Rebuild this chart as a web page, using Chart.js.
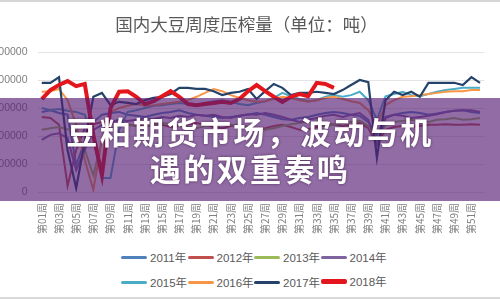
<!DOCTYPE html>
<html>
<head>
<meta charset="utf-8">
<script src="https://cdn.jsdelivr.net/npm/chart.js@4/dist/chart.umd.min.js"></script>
<style>
  body { margin: 0; width: 500px; height: 300px; overflow: hidden; background: #fff; position: relative; }
  #graphique { position: absolute; left: -20px; top: 0; }
  .trait-haut { position: absolute; left: 0; top: 0; width: 500px; height: 2px; background: #d6d6d6; }
  .trait-bas { position: absolute; left: 0; top: 297px; width: 500px; height: 2px; background: #dadada; }
  #legende { position: absolute; left: 121px; top: 245px; width: 270px; font-family: "Liberation Sans", "Noto Sans CJK SC", sans-serif; font-size: 11.5px; color: #595959; }
  #legende .item { display: inline-flex; align-items: center; width: 66.5px; height: 24px; white-space: nowrap; }
  #legende .trait { display: inline-block; width: 26px; margin-right: 3px; border-radius: 2px; }
  #bandeau { position: absolute; left: 0; top: 98px; width: 500px; height: 103px; background: rgba(86, 29, 117, 0.65); }
  #bandeau div { position: absolute; left: 0; top: 14px; width: 500px; text-align: center; color: #fff; font-family: "Noto Sans CJK SC", sans-serif; font-weight: bold; font-size: 31px; line-height: 37px; letter-spacing: 2.4px; text-shadow: 0 0 3px rgba(40, 0, 40, 0.6); }
</style>
</head>
<body>
<div class="trait-haut"></div>
<canvas id="graphique" width="523" height="240"></canvas>
<div id="legende"></div>
<div id="bandeau"><div>豆粕期货市场，波动与机<br>遇的双重奏鸣</div></div>
<div class="trait-bas"></div>
<script>
const TITRE = "国内大豆周度压榨量（单位：吨）";

// semaines : 第01周 ... 第52周
const semaines = [];
for (let i = 1; i <= 52; i++) semaines.push("第" + (i < 10 ? "0" + i : i) + "周");

const annees = ["2011年", "2012年", "2013年", "2014年", "2015年", "2016年", "2017年", "2018年"];
const couleurs = ["#4f81bd", "#c0504d", "#9bbb59", "#8064a2", "#4bacc6", "#f79646", "#23436b", "#e2161c"];
const epaisseurs = [2, 2, 2, 2, 2, 2, 2.2, 4];

const yTicks = [0, 500000, 1000000, 1500000, 2000000, 2500000];

// volumes hebdomadaires (tonnes)
const v2011 = [1430000,1460000,1410000,1380000,480000,900000,1250000,1380000,1410000,1430000,
    1380000,1360000,1340000,1380000,1410000,1430000,1460000,1410000,1380000,1360000,
    1340000,1320000,1340000,1360000,1380000,1410000,1380000,1340000,1300000,1290000,
    1320000,1340000,1380000,1410000,1430000,1410000,1380000,1360000,1250000,1020000,
    1340000,1380000,1410000,1430000,1410000,1380000,1400000,1430000,1450000,1460000,
    1430000,1410000];
const v2012 = [1340000,1320000,1200000,110000,750000,1140000,1210000,1250000,1230000,1200000,
    1210000,1180000,1210000,1230000,1200000,1160000,1180000,1210000,1230000,1200000,
    1160000,1140000,1180000,1200000,1160000,1120000,1140000,1180000,1200000,1160000,
    1110000,1120000,1160000,1200000,1210000,1180000,1200000,1230000,1140000,840000,
    1110000,1160000,1180000,1160000,1180000,1200000,1200000,1210000,1200000,1200000,
    1210000,1200000];
const v2013 = [1110000,1140000,1160000,1120000,1090000,750000,300000,930000,1140000,1180000,
    1200000,1180000,1160000,1200000,1230000,1210000,1180000,1160000,1140000,1180000,
    1210000,1230000,1200000,1180000,1160000,1140000,1110000,1140000,1180000,1210000,
    1230000,1250000,1210000,1180000,1200000,1230000,1250000,1270000,1180000,930000,
    1200000,1250000,1270000,1290000,1270000,1250000,1290000,1300000,1320000,1290000,
    1300000,1320000];
const v2014 = [930000,1020000,1050000,960000,390000,750000,1110000,1200000,1250000,1290000,
    1270000,1290000,1320000,1300000,1340000,1320000,1360000,1340000,1380000,1360000,
    1380000,1340000,1320000,1360000,1390000,1380000,1410000,1380000,1340000,1290000,
    1250000,1290000,1320000,1360000,1380000,1340000,1380000,1410000,1290000,840000,
    1320000,1380000,1360000,1320000,1340000,1360000,1390000,1430000,1450000,1460000,
    1460000,1430000];
const v2015 = [1500000,1460000,1480000,1450000,1430000,1380000,930000,250000,250000,1110000,
    1430000,1460000,1500000,1540000,1550000,1570000,1590000,1570000,1550000,1590000,
    1620000,1640000,1610000,1570000,1550000,1590000,1620000,1680000,1770000,1710000,
    1660000,1620000,1640000,1700000,1730000,1700000,1730000,1790000,1640000,1290000,
    1710000,1750000,1790000,1730000,1710000,1750000,1790000,1820000,1840000,1860000,
    1860000,1860000];
const v2016 = [1790000,1800000,1840000,1640000,1200000,570000,40000,930000,1430000,1500000,
    1540000,1570000,1540000,1550000,1570000,1590000,1610000,1640000,1700000,1770000,
    1840000,1800000,1730000,1680000,1640000,1610000,1620000,1660000,1700000,1680000,
    1640000,1610000,1640000,1680000,1700000,1660000,1620000,1590000,1460000,1200000,
    1550000,1640000,1700000,1710000,1730000,1750000,1770000,1790000,1800000,1800000,
    1820000,1820000];
const v2017 = [1950000,1950000,2050000,750000,70000,900000,1700000,1770000,1550000,1610000,
    1590000,1570000,1640000,1680000,1700000,1750000,1860000,1860000,1840000,1840000,
    1800000,1730000,1770000,1790000,1840000,1660000,1800000,1930000,1860000,1730000,
    1770000,1770000,1790000,1770000,1750000,1820000,1910000,2000000,1960000,610000,
    1640000,1790000,1730000,1790000,1700000,1950000,1950000,1950000,1950000,1910000,
    2050000,1950000];
const v2018 = [1660000,1820000,1910000,1980000,1890000,1930000,1020000,300000,1500000,1790000,
    1800000,1700000,1570000,1620000,1710000,1800000,1700000,1570000,1550000,1570000,
    1590000,1610000,1590000,1660000,1800000,1910000,1800000,1700000,1610000,1700000,
    1750000,1710000,1950000,1930000,1860000];

const series = [v2011, v2012, v2013, v2014, v2015, v2016, v2017, v2018];

// légende en HTML, 4 éléments par ligne
function chargerLegende() {
    let legende = document.getElementById("legende");
    for (let i = 0; i < annees.length; i++) {
        let item = document.createElement("span");
        item.className = "item";
        let trait = document.createElement("span");
        trait.className = "trait";
        trait.style.background = couleurs[i];
        trait.style.height = (i == 7 ? 5 : 3) + "px";
        item.appendChild(trait);
        item.appendChild(document.createTextNode(annees[i]));
        legende.appendChild(item);
    }
}

function loadChart() {
    let datasets = [];
    for (let i = 0; i < annees.length; i++) {
        datasets.push({
            label: annees[i],
            data: series[i],
            borderColor: couleurs[i],
            backgroundColor: couleurs[i],
            borderWidth: epaisseurs[i],
            pointRadius: 0,
            tension: 0,
            fill: false,
            order: annees.length - i   // 2018 dessiné au-dessus
        });
    }
    const config = {
        type: 'line',
        data: { labels: semaines, datasets: datasets },
        options: {
            responsive: false,
            animation: false,
            layout: { padding: { left: 10, right: 0, top: 0, bottom: 4 } },
            plugins: {
                legend: { display: false },
                tooltip: { enabled: false },
                title: {
                    display: true,
                    text: TITRE,
                    color: '#595959',
                    font: { family: 'Noto Sans CJK SC', size: 17.5, weight: 'normal' },
                    padding: { top: 14, bottom: 17 }
                }
            },
            scales: {
                x: {
                    offset: true,
                    grid: { display: false, drawTicks: false },
                    border: { display: false },
                    ticks: {
                        autoSkip: false,
                        minRotation: 90,
                        maxRotation: 90,
                        padding: 11,
                        color: '#808080',
                        font: { family: 'Noto Sans CJK SC', size: 10 },
                        callback: function (val, i) {
                            return i % 2 == 0 ? this.getLabelForValue(val) : '';
                        }
                    },
                    afterFit: function (scale) { scale.height = 44; }
                },
                y: {
                    min: yTicks[0],
                    max: yTicks[yTicks.length - 1],
                    afterBuildTicks: function (scale) {
                        scale.ticks = yTicks.map(v => ({ value: v }));
                    },
                    grid: { color: '#e3e3e3', drawTicks: false, lineWidth: 1 },
                    border: { display: false },
                    ticks: {
                        padding: 10,
                        color: '#7f7f7f',
                        font: { family: 'Liberation Sans', size: 10.5 },
                        callback: v => String(v)
                    },
                    afterFit: function (scale) { scale.width = 47.5; }
                }
            }
        }
    };
    new Chart(document.getElementById('graphique'), config);
}

chargerLegende();
loadChart();
</script>
</body>
</html>
